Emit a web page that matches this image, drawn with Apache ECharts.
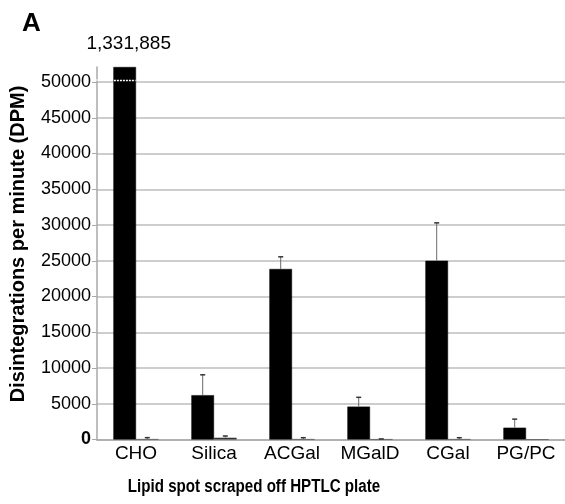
<!DOCTYPE html>
<html>
<head>
<meta charset="utf-8">
<script src="https://cdn.jsdelivr.net/npm/echarts@6/dist/echarts.min.js"></script>
<style>
  html, body { margin: 0; padding: 0; background: #fff; }
  #chart { width: 565px; height: 504px; }
</style>
</head>
<body>
<div id="chart"></div>
<script>
// Lipid spots scraped off the HPTLC plate
const categories = ['CHO', 'Silica', 'ACGal', 'MGalD', 'CGal', 'PG/PC'];

// Labelled lipid (black bars) and its upper error
const labelled = [1331885, 6200, 23850, 4600, 25000, 1650];
const labelledErr = [null, 2850, 1700, 1300, 5300, 1200];

// Control (second, near-zero bars) and its upper error
const control = [30, 250, 30, 20, 30, 0];
const controlErr = [230, 240, 220, 60, 220, null];

// Value-axis tick labels
const yTicks = [0, 5000, 10000, 15000, 20000, 25000, 30000, 35000, 40000, 45000, 50000];

// Value-axis break that lets the very tall bar fit
const breakStart = 50200;
const breakEnd = 1330200;

const topTick = yTicks[yTicks.length - 1];
const font = '"Liberation Sans", Arial, sans-serif';
const BAR_RATIO = 0.29;

function errorBarItem(side) {
  return function (params, api) {
    const err = api.value(2);
    if (err == null || isNaN(err)) return null;
    const cat = api.value(0);
    const val = api.value(1);
    const band = api.size([1, 0])[0];
    const dx = side * band * BAR_RATIO / 2;
    const base = api.coord([cat, val]);
    const top = api.coord([cat, val + err]);
    const x = base[0] + dx;
    return {
      type: 'group',
      children: [
        { type: 'line', shape: { x1: x, y1: base[1], x2: x, y2: top[1] },
          style: { stroke: '#6a6a6a', lineWidth: 1 } },
        { type: 'line', shape: { x1: x - 2.5, y1: top[1], x2: x + 2.5, y2: top[1] },
          style: { stroke: '#333', lineWidth: 1.5 } }
      ]
    };
  };
}

// White dotted cut drawn across a bar where it passes the axis break
function breakMarkItem(params, api) {
  const cat = api.value(0);
  const p = api.coord([cat, api.value(1)]);
  const band = api.size([1, 0])[0];
  const w = band * BAR_RATIO;
  const cx = p[0] - w / 2;
  return {
    type: 'line',
    shape: { x1: cx - w / 2 + 0.5, y1: p[1], x2: cx + w / 2 - 0.5, y2: p[1] },
    style: { stroke: '#fff', lineWidth: 1.5, lineDash: [2, 1] }
  };
}

const chart = echarts.init(document.getElementById('chart'), null, { renderer: 'canvas' });

chart.setOption({
  animation: false,
  backgroundColor: '#fff',
  textStyle: { fontFamily: font },
  grid: { left: 97, right: 0, top: 67, bottom: 64.5 },
  xAxis: {
    type: 'category',
    data: categories,
    axisLine: { lineStyle: { color: '#a8a8a8', width: 1.5 } },
    axisTick: { show: false },
    axisLabel: { color: '#000', fontSize: 19, margin: 5, fontFamily: font },
    splitLine: { show: false }
  },
  yAxis: {
    type: 'value',
    min: 0,
    max: 'dataMax',
    interval: 5000,
    breaks: [{ start: breakStart, end: breakEnd, gap: '0.41%' }],
    breakArea: { show: false, expandOnClick: false },
    breakLabelLayout: { moveOverlap: false },
    axisLine: { show: true, lineStyle: { color: '#a8a8a8', width: 1.5 } },
    axisTick: { show: true, length: 5, customValues: yTicks, lineStyle: { color: '#a8a8a8' } },
    axisLabel: {
      customValues: yTicks,
      color: '#000',
      fontSize: 18,
      margin: 6,
      fontFamily: font,
      formatter: function (v) { return v === 0 ? '{b|0}' : String(v); },
      rich: { b: { fontWeight: 'bold', fontSize: 18, color: '#000', fontFamily: font } }
    },
    splitLine: { show: true, customValues: yTicks, lineStyle: { color: '#bdbdbd', width: 1.5 } }
  },
  series: [
    {
      type: 'bar',
      barWidth: (BAR_RATIO * 100) + '%',
      barGap: '0%',
      itemStyle: { color: '#000', borderColor: '#000', borderWidth: 0.5 },
      label: {
        show: false,
        position: 'top',
        distance: 14,
        offset: [4, 0],
        color: '#000',
        fontSize: 19,
        fontFamily: font,
        formatter: function (p) { return Number(p.value).toLocaleString('en-US'); }
      },
      data: labelled.map(function (v) {
        return v > topTick ? { value: v, label: { show: true } } : v;
      }),
      z: 2
    },
    {
      type: 'bar',
      barWidth: (BAR_RATIO * 100) + '%',
      barGap: '0%',
      itemStyle: { color: '#222', borderColor: '#555', borderWidth: 0.5 },
      data: control,
      z: 2
    },
    {
      type: 'custom',
      renderItem: errorBarItem(-1),
      encode: { x: 0, y: 1 },
      data: labelled.map(function (v, i) { return [i, v, labelledErr[i]]; }),
      z: 3
    },
    {
      type: 'custom',
      renderItem: errorBarItem(1),
      encode: { x: 0, y: 1 },
      data: control.map(function (v, i) { return [i, v, controlErr[i]]; }),
      z: 3
    },
    {
      type: 'custom',
      renderItem: breakMarkItem,
      encode: { x: 0, y: 1 },
      data: labelled
        .map(function (v, i) { return v > breakStart ? [i, breakStart] : null; })
        .filter(function (d) { return d; }),
      z: 4
    }
  ],
  graphic: [
    { type: 'text', x: 31.5, y: 23.5,
      style: { text: 'A', fontSize: 26, fontWeight: 'bold', fill: '#000', fontFamily: font,
               textAlign: 'center', textVerticalAlign: 'middle' } },
    { type: 'text', x: 18.5, y: 244, rotation: Math.PI / 2,
      style: { text: 'Disintegrations per minute (DPM)', fontSize: 20, fontWeight: 'bold',
               fill: '#000', fontFamily: font, textAlign: 'center', textVerticalAlign: 'middle' } },
    { type: 'text', x: 254, y: 487, scaleX: 0.865,
      style: { text: 'Lipid spot scraped off HPTLC plate', fontSize: 17.5, fontWeight: 'bold',
               fill: '#000', fontFamily: font, textAlign: 'center', textVerticalAlign: 'middle' } }
  ]
});
</script>
</body>
</html>
